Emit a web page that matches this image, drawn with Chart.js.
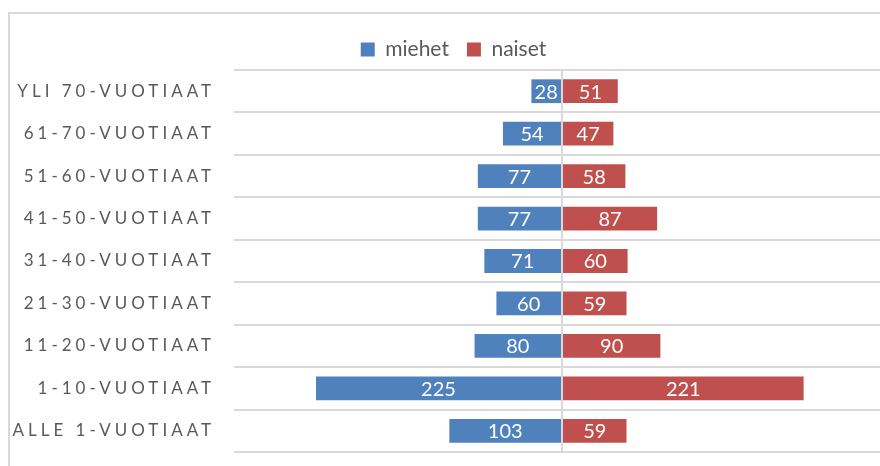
<!DOCTYPE html>
<html lang="fi">
<head>
    <meta charset="UTF-8">
    <title>Ikäjakauma</title>
    <style>
        html, body { margin: 0; padding: 0; background: #ffffff; overflow: hidden; }
        body { width: 880px; height: 466px; position: relative; }
        .frame { position: absolute; left: 8px; top: 12px; width: 920px; height: 480px; border: 2px solid #d9d9d9; box-sizing: border-box; }
        .wrap { position: absolute; left: 0; top: 0; width: 920px; height: 466px; }
    </style>
</head>
<body>
    <div class="frame"></div>
    <div class="wrap"><canvas id="pyramid" width="920" height="466"></canvas></div>

    <script src="https://cdn.jsdelivr.net/npm/chart.js"></script>
    <script>
        // ikäryhmät ylhäältä alas
        const ageGroups = [
            'YLI 70-VUOTIAAT',
            '61-70-VUOTIAAT',
            '51-60-VUOTIAAT',
            '41-50-VUOTIAAT',
            '31-40-VUOTIAAT',
            '21-30-VUOTIAAT',
            '11-20-VUOTIAAT',
            '1-10-VUOTIAAT',
            'ALLE 1-VUOTIAAT'
        ];
        const men = [28, 54, 77, 77, 71, 60, 80, 225, 103];
        const women = [51, 47, 58, 87, 60, 59, 90, 221, 59];
        const seriesNames = ['miehet', 'naiset'];

        const textColor = '#595959';
        const gridColor = '#d9d9d9';

        // harvennetut kirjaimet y-akselin otsikoille
        const spacedTicks = {
            id: 'spacedTicks',
            beforeDraw(chart) {
                const s = chart.scales.y;
                if (s && !s.$spaced) {
                    const orig = s.drawLabels;
                    s._computeLabelArea = () => undefined; // ei leikkausta vasemmasta reunasta
                    s.drawLabels = function (area) {
                        const ctx = this.ctx;
                        ctx.save();
                        ctx.letterSpacing = '4px';
                        orig.call(this, area);
                        ctx.restore();
                    };
                    s.$spaced = true;
                }
            }
        };

        // arvot palkkien keskelle
        const barValues = {
            id: 'barValues',
            afterDatasetsDraw(chart) {
                const ctx = chart.ctx;
                ctx.save();
                ctx.fillStyle = '#ffffff';
                ctx.font = '20px Lato';
                ctx.textAlign = 'center';
                ctx.textBaseline = 'middle';
                chart.data.datasets.forEach((ds, i) => {
                    chart.getDatasetMeta(i).data.forEach((bar, j) => {
                        const p = bar.getCenterPoint();
                        ctx.fillText(Math.abs(ds.data[j]), p.x, p.y + 1);
                    });
                });
                ctx.restore();
            }
        };

        const ctx = document.getElementById('pyramid').getContext('2d');
        new Chart(ctx, {
            type: 'bar',
            data: {
                labels: ageGroups,
                datasets: [{
                    label: seriesNames[0],
                    data: men.map(v => -v),
                    backgroundColor: '#4f81bd',
                    barPercentage: 0.56,
                    categoryPercentage: 1
                }, {
                    label: seriesNames[1],
                    data: women,
                    backgroundColor: '#c0504d',
                    barPercentage: 0.56,
                    categoryPercentage: 1
                }]
            },
            options: {
                indexAxis: 'y',
                responsive: false,
                animation: false,
                layout: { autoPadding: false, padding: { top: 21, right: 30, bottom: 14, left: 17 } },
                plugins: {
                    legend: {
                        labels: {
                            boxWidth: 14,
                            boxHeight: 14,
                            padding: 18,
                            color: textColor,
                            font: { family: 'Lato', size: 21 }
                        }
                    },
                    tooltip: { enabled: false }
                },
                scales: {
                    x: {
                        stacked: true,
                        min: -300,
                        max: 300,
                        afterFit: s => { s.height = 0; },
                        ticks: { display: false, stepSize: 100 },
                        border: { display: false },
                        grid: {
                            drawTicks: false,
                            lineWidth: 2,
                            color: c => c.tick && c.tick.value === 0 ? gridColor : 'transparent'
                        }
                    },
                    y: {
                        stacked: true,
                        afterFit: s => {
                            s.width = 217;
                            s.paddingTop = 0;
                            s.paddingBottom = 0;
                        },
                        border: { display: false },
                        grid: { drawTicks: false, color: gridColor, lineWidth: 2 },
                        ticks: {
                            padding: 19,
                            color: textColor,
                            font: { family: 'Lato', size: 17 }
                        }
                    }
                }
            },
            plugins: [spacedTicks, barValues]
        });
    </script>
</body>
</html>
